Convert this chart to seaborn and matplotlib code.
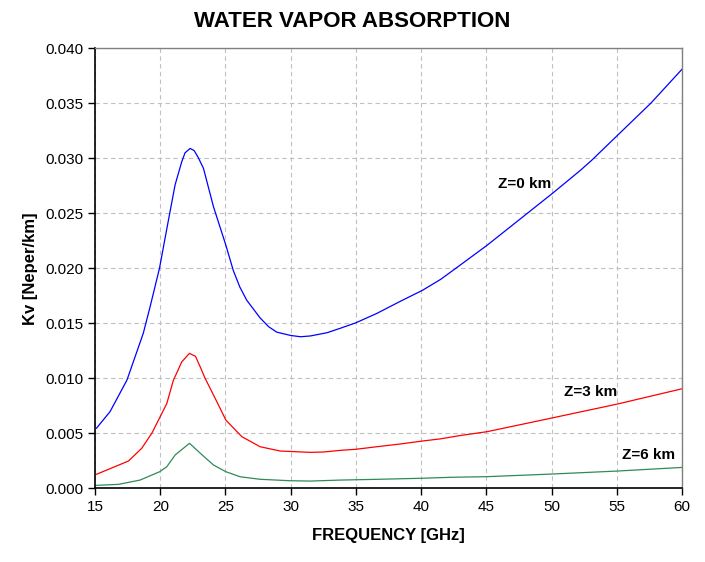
import pandas as pd
import matplotlib.pyplot as plt
import seaborn as sns

# data
freq_z0 = [15.1, 16.15, 17.45, 18.7, 19.22, 19.94, 20.63, 21.14, 21.65, 21.9, 22.29, 22.6, 22.9,
           23.31, 24.08, 25.03, 25.6, 26.1, 26.63, 27.65, 28.3, 28.93, 29.98, 30.75, 31.5, 32.8,
           33.8, 35.0, 36.6, 38.4, 40.1, 41.5, 43.0, 45.06, 50.05, 52.2, 53.1, 54.8, 57.6, 60.0]
kv_z0 = [0.00545, 0.00697, 0.00985, 0.0141, 0.0165, 0.0200, 0.0244, 0.0276, 0.0297, 0.0305, 0.0309,
         0.0307, 0.0301, 0.0291, 0.0256, 0.0221, 0.0198, 0.0183, 0.0171, 0.0155, 0.0147, 0.0142,
         0.0139, 0.01378, 0.01385, 0.01415, 0.01455, 0.01505, 0.0159, 0.0170, 0.0180, 0.0190, 0.0203,
         0.0221, 0.0268, 0.0289, 0.02985, 0.0318, 0.0350, 0.0381]

freq_z3 = [15.1, 16.4, 17.56, 18.58, 19.35, 19.99, 20.5, 21.0, 21.65, 22.24, 22.7, 23.06, 23.44,
           24.34, 25.03, 26.26, 27.66, 29.2, 31.5, 32.5, 33.8, 35.0, 36.6, 38.4, 40.1, 41.5, 43.0,
           45.06, 50.05, 55.04, 60.0]
kv_z3 = [0.00127, 0.00191, 0.00248, 0.00364, 0.0050, 0.0065, 0.0077, 0.0098, 0.0115, 0.01227,
         0.0120, 0.01105, 0.0100, 0.00787, 0.0062, 0.00469, 0.00378, 0.00339, 0.00327, 0.0033,
         0.00345, 0.00355, 0.00378, 0.00403, 0.0043, 0.0045, 0.0048, 0.00515, 0.0064, 0.00766,
         0.00905]

freq_z6 = [15.1, 16.8, 18.45, 19.94, 20.5, 21.14, 22.24, 23.3, 24.08, 25.03, 26.13, 27.66, 29.96,
           31.5, 33.8, 36.7, 39.9, 42.24, 45.06, 50.05, 55.04, 60.0]
kv_z6 = [0.00027, 0.00036, 0.00075, 0.0015, 0.00196, 0.00303, 0.00409, 0.00294, 0.00212, 0.00151,
         0.00105, 0.00082, 0.00069, 0.00066, 0.00075, 0.00082, 0.00091, 0.001, 0.00106, 0.0013,
         0.00157, 0.0019]

labels = ['Z=0 km', 'Z=3 km', 'Z=6 km']
colors = ['#0000FF', '#FF0000', '#2E8B57']

df = pd.concat([
    pd.DataFrame({'freq': freq_z0, 'kv': kv_z0, 'alt': labels[0]}),
    pd.DataFrame({'freq': freq_z3, 'kv': kv_z3, 'alt': labels[1]}),
    pd.DataFrame({'freq': freq_z6, 'kv': kv_z6, 'alt': labels[2]}),
])

sns.set_style('ticks')
plt.rcParams['font.family'] = ['Liberation Sans', 'DejaVu Sans']
plt.rcParams['text.color'] = 'black'
plt.rcParams['axes.labelcolor'] = 'black'
plt.rcParams['xtick.color'] = 'black'
plt.rcParams['ytick.color'] = 'black'

fig = plt.figure(figsize=(7.05, 5.62), dpi=100)
ax = fig.add_axes([0.1348, 0.1311, 0.8326, 0.7829])

sns.lineplot(data=df, x='freq', y='kv', hue='alt', palette=colors,
             estimator=None, linewidth=0.9, legend=False, ax=ax)

ax.set_xlim(15, 60)
ax.set_ylim(0, 0.040)
ax.set_xticks(range(15, 61, 5))
ax.set_yticks([i * 0.005 for i in range(9)])
ax.set_yticklabels([f'{i * 0.005:.3f}' for i in range(9)])
ax.tick_params(labelsize=11, length=5, width=1)
ax.grid(True, ls=(0, (4, 3)), color='#C0C0C0', lw=0.8)

for side in ['left', 'bottom']:
    ax.spines[side].set_color('black')
    ax.spines[side].set_linewidth(1.2)
for side in ['top', 'right']:
    ax.spines[side].set_visible(True)
    ax.spines[side].set_color('#808080')
    ax.spines[side].set_linewidth(1)

ax.set_xlabel('FREQUENCY [GHz]', fontsize=12, fontweight='bold', labelpad=10)
ax.set_ylabel('Kv [Neper/km]', fontsize=12, fontweight='bold', labelpad=5)
fig.suptitle('WATER VAPOR ABSORPTION', fontsize=16, fontweight='bold', y=0.961, va='center')

# curve labels
ax.text(47.9, 0.0277, labels[0], fontsize=11, fontweight='bold', ha='center', va='center')
ax.text(53.0, 0.0088, labels[1], fontsize=11, fontweight='bold', ha='center', va='center')
ax.text(57.4, 0.0030, labels[2], fontsize=11, fontweight='bold', ha='center', va='center')

plt.savefig('out.png', dpi=100)
